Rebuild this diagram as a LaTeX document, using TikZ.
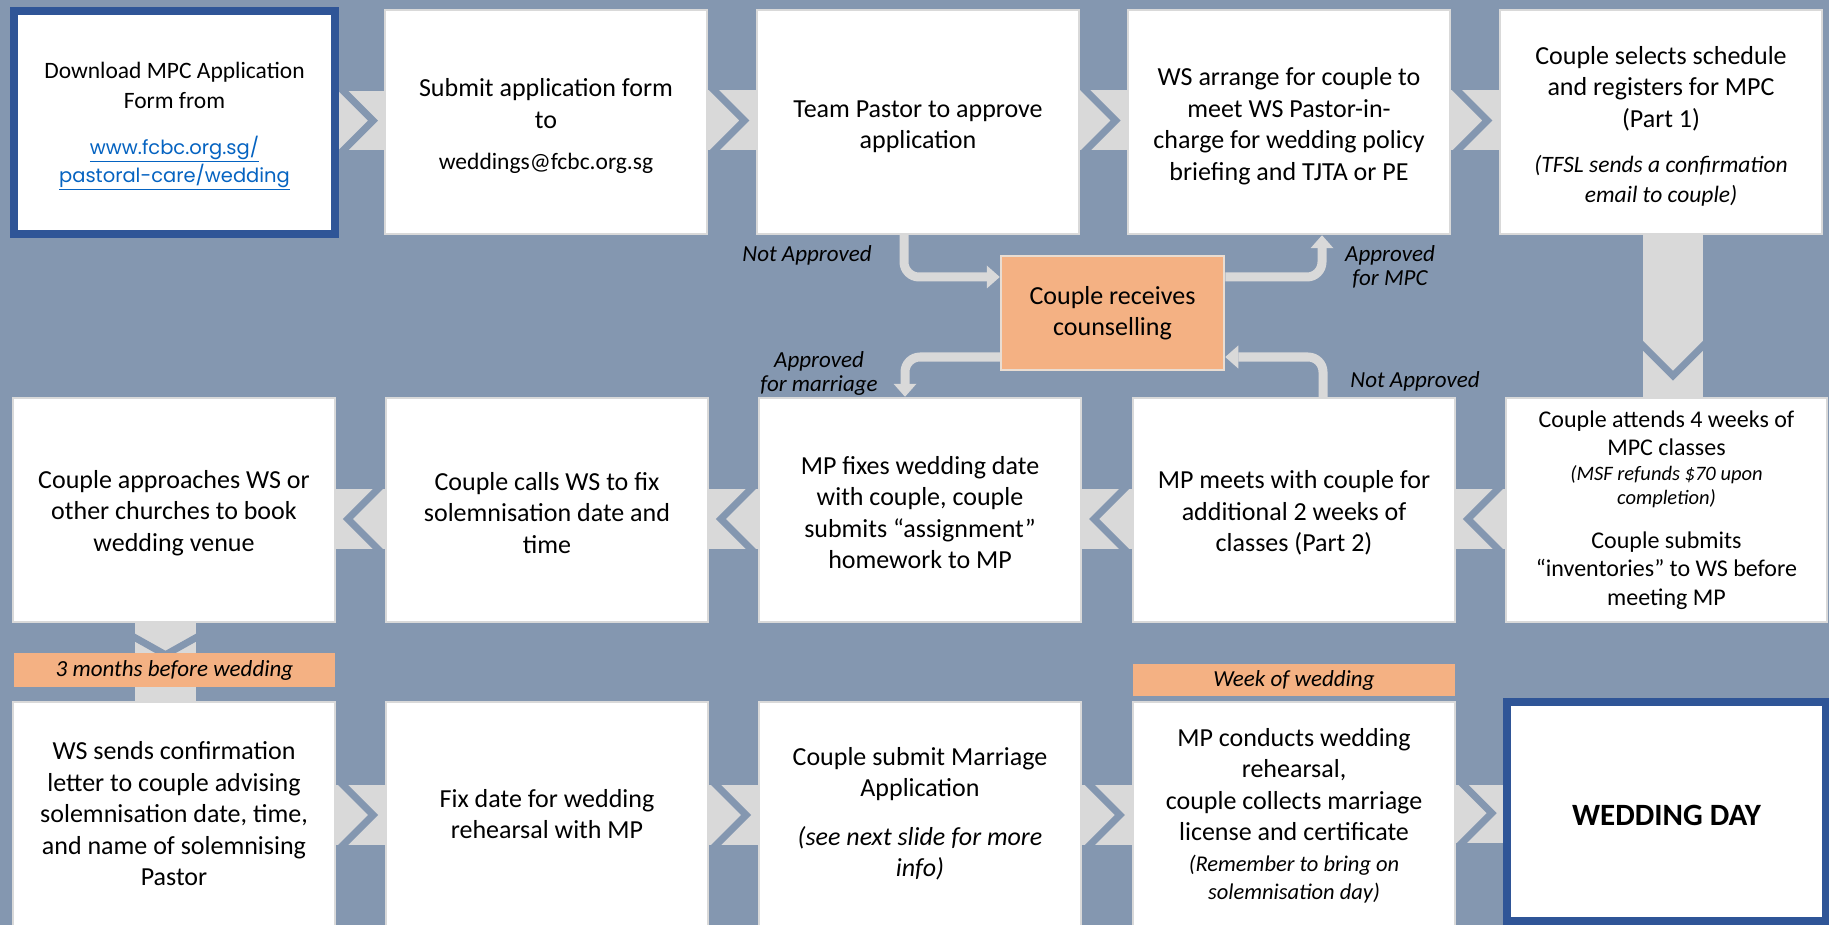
\documentclass[tikz,border=0pt]{standalone}
\usepackage{fontspec}
\setmainfont{Carlito}
\newfontfamily\linkfont{Poppins}
\usetikzlibrary{calc,arrows.meta}
\definecolor{bgc}{HTML}{8497B0}
\definecolor{bandc}{HTML}{D9D9D9}
\definecolor{orng}{HTML}{F4B183}
\definecolor{dblue}{HTML}{2F5597}
\definecolor{linkc}{HTML}{0563C1}
\definecolor{ccline}{HTML}{E9DDD2}
\pgfdeclarelayer{back}
\pgfdeclarelayer{bands}
\pgfsetlayers{back,bands,main}
\newcommand\mainfs{\fontsize{26}{31.5}\selectfont}
\newcommand\onefs{\fontsize{23.5}{30}\selectfont}
\newcommand\linkfs{\linkfont\fontsize{19.5}{28}\selectfont}
\newcommand\emailfs{\fontsize{23.5}{28}\selectfont}
\newcommand\notefs{\fontsize{23.5}{30}\selectfont}
\newcommand\tenfs{\fontsize{24}{28.6}\selectfont}
\newcommand\tennotefs{\fontsize{20.5}{24.5}\selectfont}
\newcommand\ftnotefs{\fontsize{22.5}{28}\selectfont}
\newcommand\wdfs{\fontsize{31}{36}\selectfont}
\newcommand\lblfs{\fontsize{23}{24}\selectfont}
\newcommand\tagfs{\fontsize{23}{26}\selectfont}
\newcommand\hstrut[1]{\rule{0pt}{#1pt}}
\tikzset{
  box/.style={draw=bandc, line width=2.5pt, fill=white, minimum width=322pt,
    minimum height=224pt, align=flush center, text width=318pt, inner sep=0pt, font=\mainfs},
  bluebox/.style={box, draw=dblue, line width=8pt},
  tag/.style={fill=orng, minimum width=322pt, minimum height=33pt, inner sep=0pt, font=\tagfs\itshape},
  conn/.style={draw=bandc, line width=9pt, rounded corners=15pt,
    -{Triangle[length=13pt,width=23pt,line width=0pt]}},
  lbl/.style={font=\lblfs\itshape, align=center, inner sep=0pt},
  notch/.style={draw=bgc, line width=7pt, line join=miter},
}
% right-pointing chevron band between #1 (left) and #2 (right), vertical offset #3
\newcommand\chevR[3]{%
  \begin{pgfonlayer}{bands}
  \fill[bandc] ($(#1.east)+(0,#3-30)$) rectangle ($(#2.west)+(0,#3+30)$);
  \begin{scope}
    \clip ($(#1.east)+(0,#3-30)$) rectangle ($(#2.west)+(0,#3+30)$);
    \coordinate (tp) at ($(#1.east)!0.76!(#2.west)+(0,#3)$);
    \draw[notch] ($(tp)+(-45,-45)$) -- (tp) -- ($(tp)+(-45,45)$);
  \end{scope}
  \end{pgfonlayer}}
% left-pointing chevron band from #1 (right) to #2 (left)
\newcommand\chevL[3]{%
  \begin{pgfonlayer}{bands}
  \fill[bandc] ($(#2.east)+(0,#3-30)$) rectangle ($(#1.west)+(0,#3+30)$);
  \begin{scope}
    \clip ($(#2.east)+(0,#3-30)$) rectangle ($(#1.west)+(0,#3+30)$);
    \coordinate (tp) at ($(#1.west)!0.76!(#2.east)+(0,#3)$);
    \draw[notch] ($(tp)+(45,-45)$) -- (tp) -- ($(tp)+(45,45)$);
  \end{scope}
  \end{pgfonlayer}}
\begin{document}
\begin{tikzpicture}[x=1pt,y=-1pt]
\useasboundingbox (0,0) rectangle (1829,925);
\begin{pgfonlayer}{back}
\fill[bgc] (0,0) rectangle (1829,925);
\end{pgfonlayer}

% Row 1
\node[bluebox, minimum width=321pt, minimum height=223pt] (b1) at (174.5,122.5)
  {\onefs\hstrut{24}Download MPC Application\\Form from\par\vspace{18pt}%
   {\linkfs\color{linkc}\underline{www.fcbc.org.sg/}\\\underline{pastoral-care/wedding}\par}};
\node[box] (b2) at (546,122)
  {\hstrut{26}Submit application form\\to\par\vspace{13pt}{\emailfs weddings@fcbc.org.sg\par}};
\node[box] (b3) at (918,122) {\hstrut{26}Team Pastor to approve\\application};
\node[box] (b4) at (1289,122)
  {\hstrut{26}WS arrange for couple to\\meet WS Pastor-in-\\charge for wedding policy\\briefing and TJTA or PE};
\node[box] (b5) at (1661,122)
  {\hstrut{26}Couple selects schedule\\and registers for MPC\\(Part 1)\par\vspace{15pt}%
   {\notefs\itshape (TFSL sends a confirmation\\email to couple)\par}};

% Row 2
\node[box] (b6) at (174,510) {\hstrut{24}Couple approaches WS or\\other churches to book\\wedding venue};
\node[box] (b7) at (547,510) {\hstrut{24}Couple calls WS to fix\\solemnisation date and\\time};
\node[box] (b8) at (920,510)
  {\hstrut{23}MP fixes wedding date\\with couple, couple\\submits “assignment”\\homework to MP};
\node[box] (b9) at (1294,510) {\hstrut{24}MP meets with couple for\\additional 2 weeks of\\classes (Part 2)};
\node[box, minimum width=321pt] (b10) at (1666.5,510)
  {{\tenfs Couple attends 4 weeks of\\MPC classes\par}%
   {\tennotefs\itshape (MSF refunds \$70 upon\\completion)\par}\vspace{15pt}%
   {\tenfs Couple submits\\“inventories” to WS before\\meeting MP\par}};

% Row 3
\node[box] (b11) at (174,814)
  {WS sends confirmation\\letter to couple advising\\solemnisation date, time,\\and name of solemnising\\Pastor};
\node[box] (b12) at (547,814) {Fix date for wedding\\rehearsal with MP};
\node[box] (b13) at (920,814)
  {Couple submit Marriage\\Application\par\vspace{17pt}{\itshape (see next slide for more\\info)\par}};
\node[box] (b14) at (1294,814)
  {\hstrut{22}MP conducts wedding\\rehearsal,\\couple collects marriage\\license and certificate\par\vspace{3pt}%
   {\ftnotefs\itshape (Remember to bring on\\solemnisation day)\par}};
\node[bluebox, minimum width=319pt, minimum height=219pt] (b15) at (1666.5,811.5)
  {\hstrut{28}{\wdfs\bfseries WEDDING DAY}};

% counselling
\node[draw=ccline, line width=2.5pt, fill=orng, minimum width=223pt, minimum height=114pt,
  align=center, inner sep=0pt, font=\mainfs] (cc) at (1112.5,313) {Couple receives\\counselling};

% tags
\node[tag, minimum width=321pt, minimum height=34pt] (t1) at (174.5,670) {3 months before wedding};
\node[tag, minimum height=32pt] (t2) at (1294,680) {Week of wedding};

% chevrons
\chevR{b1}{b2}{-1.5}
\chevR{b2}{b3}{-1.5}
\chevR{b3}{b4}{-1.5}
\chevR{b4}{b5}{-1.5}
\chevL{b7}{b6}{9}
\chevL{b8}{b7}{9}
\chevL{b9}{b8}{9}
\chevL{b10}{b9}{9}
\chevR{b11}{b12}{1}
\chevR{b12}{b13}{1}
\chevR{b13}{b14}{1}
\chevR{b14}{b15}{1}

\begin{pgfonlayer}{bands}
% down b5 -> b10
\fill[bandc] ($(b5.south)+(-18,0)$) rectangle ($(b5.south |- b10.north)+(42,0)$);
\begin{scope}
  \clip ($(b5.south)+(-18,0)$) rectangle ($(b5.south |- b10.north)+(42,0)$);
  \coordinate (tq) at ($(b5.south |- b10.north)+(12,-21)$);
  \draw[notch] ($(tq)+(-45,-45)$) -- (tq) -- ($(tq)+(45,-45)$);
\end{scope}
% down b6 -> b11
\fill[bandc] ($(b6.south)+(-39,0)$) rectangle ($(b6.south |- b11.north)+(22,0)$);
\begin{scope}
  \clip ($(b6.south)+(-39,0)$) rectangle ($(b6.south |- b11.north)+(22,0)$);
  \coordinate (tr) at ($(b6.south |- b11.north)+(-8.5,-46)$);
  \draw[notch] ($(tr)+(-50,-28)$) -- (tr) -- ($(tr)+(50,-28)$);
\end{scope}
\end{pgfonlayer}

% counselling connectors
\draw[conn] ($(b3.south)+(-14,0)$) |- ($(cc.west)+(0,-36)$);
\draw[conn] ($(cc.east)+(0,-36)$) -| ($(b4.south)+(33,0)$);
\draw[conn] ($(cc.west)+(0,44)$) -| ($(b8.north)+(-15,0)$);
\draw[conn] ($(b9.north)+(29,0)$) |- ($(cc.east)+(0,44)$);

% labels
\node[lbl] (l1) at (807,255) {Not Approved};
\node[lbl] (l2) at (1390,267) {Approved\\for MPC};
\node[lbl] (l3) at (819,373) {Approved\\for marriage};
\node[lbl] (l4) at (1415,381) {Not Approved};
\end{tikzpicture}
\end{document}
